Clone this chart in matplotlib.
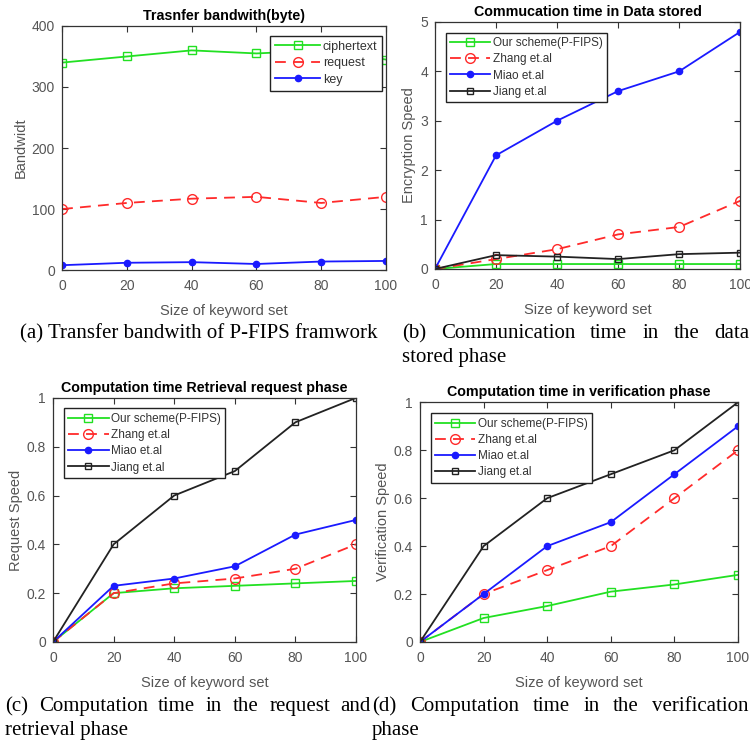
import numpy as np
import matplotlib
matplotlib.use("Agg")
import matplotlib.pyplot as plt

# donnees
x_keywords = [0, 20, 40, 60, 80, 100]

bw_ciphertext = [340, 350, 360, 355, 360, 345]
bw_request = [100, 110, 117, 120, 110, 120]
bw_key = [8, 12, 13, 10, 14, 15]

store_ours = [0, 0.1, 0.1, 0.1, 0.1, 0.1]
store_zhang = [0, 0.2, 0.4, 0.7, 0.85, 1.38]
store_miao = [0, 2.3, 3.0, 3.6, 4.0, 4.8]
store_jiang = [0, 0.28, 0.25, 0.2, 0.3, 0.33]

req_ours = [0, 0.2, 0.22, 0.23, 0.24, 0.25]
req_zhang = [0, 0.2, 0.24, 0.26, 0.3, 0.4]
req_miao = [0, 0.23, 0.26, 0.31, 0.44, 0.5]
req_jiang = [0, 0.4, 0.6, 0.7, 0.9, 1.0]

verif_ours = [0, 0.1, 0.15, 0.21, 0.24, 0.28]
verif_zhang = [0, 0.2, 0.3, 0.4, 0.6, 0.8]
verif_miao = [0, 0.2, 0.4, 0.5, 0.7, 0.9]
verif_jiang = [0, 0.4, 0.6, 0.7, 0.8, 1.0]

schemes = ["Our scheme(P-FIPS)", "Zhang et.al", "Miao et.al", "Jiang et.al"]

GREEN = "#22e022"
RED = "#ff2a2a"
BLUE = "#1a1aff"
GRAY = "#555555"

plt.rcParams["font.family"] = ["Liberation Sans", "DejaVu Sans"]

fig = plt.figure(figsize=(7.5, 7.42), dpi=100)


def style_axes(ax, yticks, ylim, ylabel, title, yfmt=None):
    ax.set_xlim(0, 100)
    ax.set_ylim(*ylim)
    ax.set_xticks(x_keywords)
    ax.set_yticks(yticks)
    if yfmt is not None:
        ax.set_yticklabels([yfmt(v) for v in yticks])
    ax.tick_params(direction="in", top=True, right=True, length=4, width=0.8,
                   labelsize=10, labelcolor=GRAY, color="#333333")
    ax.tick_params(axis="x", pad=6.5)
    ax.tick_params(axis="y", pad=5)
    for sp in ax.spines.values():
        sp.set_color("#333333")
        sp.set_linewidth(0.9)
    ax.set_xlabel("Size of keyword set", fontsize=10.5, color=GRAY, labelpad=8)
    ax.set_ylabel(ylabel, fontsize=10.5, color=GRAY, labelpad=3)
    ax.set_title(title, fontsize=10.3, fontweight="bold", pad=4.5)


def plot_four(ax, ours, zhang, miao, jiang):
    ax.plot(x_keywords, ours, "-", color=GREEN, marker="s", mfc="none", ms=6, lw=1.3, label=schemes[0])
    ax.plot(x_keywords, zhang, "--", color=RED, marker="o", mfc="none", ms=7, lw=1.3, dashes=(6, 4), label=schemes[1])
    ax.plot(x_keywords, miao, "-", color=BLUE, marker=".", ms=9, lw=1.3, label=schemes[2])
    ax.plot(x_keywords, jiang, "-", color="#222222", marker="s", mfc="none", ms=5, lw=1.3, label=schemes[3])


def fmt_dec(v):
    return "0" if v == 0 else ("1" if v == 1 else "%.1f" % v)


def legend(ax, size=8.5, hl=3.4, **kw):
    leg = ax.legend(fontsize=size, fancybox=False, edgecolor="#222222", framealpha=1,
                    handlelength=hl, handletextpad=0.2, borderpad=0.4, labelspacing=0.35,
                    **kw)
    leg.get_frame().set_linewidth(1.0)
    for t in leg.get_texts():
        t.set_color("#333333")
    return leg


# (a)
ax_a = fig.add_axes([0.0827, 0.636, 0.432, 0.329])
ax_a.plot(x_keywords, bw_ciphertext, "-", color=GREEN, marker="s", mfc="none", ms=6, lw=1.3, label="ciphertext")
ax_a.plot(x_keywords, bw_request, "--", color=RED, marker="o", mfc="none", ms=7, lw=1.3, dashes=(6, 4), label="request")
ax_a.plot(x_keywords, bw_key, "-", color=BLUE, marker=".", ms=9, lw=1.3, label="key")
style_axes(ax_a, [0, 100, 200, 300, 400], (0, 400), "Bandwidt", "Trasnfer bandwith(byte)")
legend(ax_a, size=9, hl=3.6, loc="upper right", bbox_to_anchor=(1.0, 0.975), borderaxespad=0.3)

# (b)
ax_b = fig.add_axes([0.58, 0.6375, 0.407, 0.333])
plot_four(ax_b, store_ours, store_zhang, store_miao, store_jiang)
style_axes(ax_b, [0, 1, 2, 3, 4, 5], (0, 5), "Encryption Speed", "Commucation time in Data stored")
legend(ax_b, loc="upper left", borderaxespad=0.9)

# (c)
ax_c = fig.add_axes([0.0707, 0.1348, 0.404, 0.329])
plot_four(ax_c, req_ours, req_zhang, req_miao, req_jiang)
style_axes(ax_c, [0, 0.2, 0.4, 0.6, 0.8, 1.0], (0, 1), "Request Speed",
           "Computation time Retrieval request phase", fmt_dec)
legend(ax_c, loc="upper left", borderaxespad=0.9)

# (d)
ax_d = fig.add_axes([0.56, 0.1348, 0.424, 0.323])
plot_four(ax_d, verif_ours, verif_zhang, verif_miao, verif_jiang)
style_axes(ax_d, [0, 0.2, 0.4, 0.6, 0.8, 1.0], (0, 1), "Verification Speed",
           "Computation time in verification phase", fmt_dec)
legend(ax_d, loc="upper left", borderaxespad=0.9)

# legendes sous les figures (texte justifie)
renderer = fig.canvas.get_renderer()
CAP = 15


def justified(words, x0, x1, y, size=CAP):
    """place les mots entre x0 et x1 (pixels), y = ligne de base depuis le haut"""
    W, H = fig.bbox.width, fig.bbox.height
    arts = [fig.text(0, 1 - y / H, w, fontsize=size, family="Liberation Serif",
                     va="baseline", ha="left") for w in words]
    widths = [a.get_window_extent(renderer).width for a in arts]
    gap = (x1 - x0 - sum(widths)) / max(len(words) - 1, 1)
    x = x0
    for a, w in zip(arts, widths):
        a.set_x(x / W)
        x += w + gap


def plain(txt, x0, y, size=CAP):
    W, H = fig.bbox.width, fig.bbox.height
    fig.text(x0 / W, 1 - y / H, txt, fontsize=size, family="Liberation Serif",
             va="baseline", ha="left")


plain("(a) Transfer bandwith of P-FIPS framwork", 20, 338)
justified("(b) Communication time in the data".split(), 402, 749, 338)
plain("stored phase", 402, 362)
justified("(c) Computation time in the request and".split(), 5, 371, 711)
justified("(d) Computation time in the verification".split(), 372, 749, 711)
plain("retrieval phase", 5, 735)
plain("phase", 372, 735)

fig.savefig("out.png", dpi=100, facecolor="white")
